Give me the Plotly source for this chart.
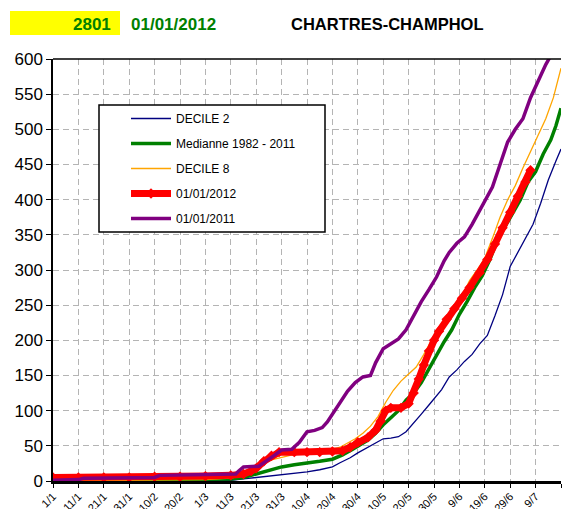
import plotly.graph_objects as go

# ---------------- data (day index from 1 Jan) ----------------
tick_labels = ["1/1", "11/1", "21/1", "31/1", "10/2", "20/2", "1/3", "11/3", "21/3", "31/3",
               "10/4", "20/4", "30/4", "10/5", "20/5", "30/5", "9/6", "19/6", "29/6", "9/7", "19/7"]
tick_days = [0, 10, 20, 30, 40, 50, 60, 70, 80, 90, 100, 110, 120, 130, 140, 150, 160, 170, 180, 190, 200]

d2_days = [0, 60, 70, 75, 80, 85, 90, 95, 100, 105, 110, 113, 117, 120, 124, 127, 130, 133, 136, 139,
           142, 145, 148, 150, 153, 156, 159, 162, 165, 168, 171, 174, 177, 180, 183, 186, 189, 192, 195, 198, 200]
d2_vals = [0, 0, 1, 3, 5, 6, 8, 11, 13, 16, 20, 26, 33, 40, 48, 55, 60, 61, 63, 70,
           82, 95, 108, 117, 130, 148, 158, 170, 180, 195, 207, 235, 265, 305, 325, 345, 365, 395, 428, 455, 472]

med_days = [0, 30, 60, 70, 75, 78, 82, 86, 90, 95, 100, 105, 110, 114, 118, 121, 124, 127, 130, 133, 136,
            139, 142, 145, 148, 151, 154, 157, 160, 163, 166, 169, 172, 175, 178, 181, 184, 187, 190, 193,
            196, 198, 200]
med_vals = [0, 1, 2, 3, 5, 8, 12, 17, 20, 23, 25, 28, 31, 37, 45, 52, 58, 68, 80, 90, 100,
            115, 125, 140, 160, 180, 198, 215, 237, 255, 275, 292, 315, 343, 362, 380, 400, 425, 440, 465,
            485, 505, 530]

d8_days = [0, 60, 70, 75, 80, 83, 86, 89, 92, 95, 100, 105, 110, 113, 116, 119, 122, 125, 128, 131, 134,
           137, 140, 143, 146, 149, 152, 155, 158, 161, 164, 167, 170, 173, 176, 179, 182, 185, 188, 191,
           194, 197, 200]
d8_vals = [0, 2, 4, 8, 18, 27, 30, 33, 36, 38, 40, 42, 45, 48, 54, 60, 68, 78, 92, 112, 129,
           142, 152, 162, 180, 200, 215, 230, 245, 263, 285, 300, 317, 345, 375, 400, 420, 445, 468, 490,
           515, 545, 587]

y2012_days = [0, 10, 20, 30, 40, 50, 60, 70, 75, 78, 80, 83, 86, 89, 95, 100, 105, 110, 114, 117, 120,
              124, 127, 129, 131, 133, 137, 140, 142, 144, 146, 148, 150, 152, 155, 158, 161, 164, 168,
              171, 174, 177, 180, 183, 186, 188]
y2012_vals = [5, 5, 5, 5, 6, 6, 7, 8, 10, 14, 18, 28, 36, 41, 41, 41, 41, 42, 43, 48, 55,
              62, 72, 85, 100, 104, 104, 110, 125, 145, 165, 185, 200, 213, 230, 245, 260, 275, 296,
              315, 337, 360, 382, 405, 425, 442]

y2011_days = [0, 10, 12, 40, 42, 72, 73, 75, 81, 84, 87, 90, 94, 97, 100, 103, 106, 108, 110, 113, 116,
              119, 122, 125, 127, 130, 133, 136, 139, 142, 145, 148, 151, 154, 156, 159, 162, 165, 168,
              171, 173, 176, 179, 182, 185, 188, 191, 194, 196]
y2011_vals = [1, 2, 4, 5, 8, 10, 14, 20, 21, 28, 36, 44, 45, 55, 70, 72, 76, 84, 95, 110, 128,
              140, 148, 150, 168, 188, 195, 202, 215, 235, 255, 272, 290, 313, 325, 338, 347, 365, 385,
              405, 418, 450, 482, 500, 515, 545, 570, 592, 605]

# ---------------- layout helpers (pixels -> paper) ----------------
W, H = 563, 509
L, R, T, B = 53, 2, 59, 28
PW, PH = W - L - R, H - T - B


def px(x):
    return (x - L) / PW


def py(y):
    return (H - B - y) / PH


FONT = "Arial, Liberation Sans, sans-serif"

fig = go.Figure()
fig.add_trace(go.Scatter(x=d2_days, y=d2_vals, mode="lines", name="DECILE 2",
                         line=dict(color="#000080", width=1.3), legendgroup="a"))
fig.add_trace(go.Scatter(x=med_days, y=med_vals, mode="lines", name="Medianne 1982 - 2011",
                         line=dict(color="#008000", width=3.5), legendgroup="b"))
fig.add_trace(go.Scatter(x=d8_days, y=d8_vals, mode="lines", name="DECILE 8",
                         line=dict(color="#FFA500", width=1.3), legendgroup="c"))
fig.add_trace(go.Scatter(x=y2012_days, y=y2012_vals, mode="lines+markers", name="01/01/2012",
                         line=dict(color="#FF0000", width=7),
                         marker=dict(symbol="diamond", size=8, color="#FF0000"), legendgroup="d"))
fig.add_trace(go.Scatter(x=y2011_days, y=y2011_vals, mode="lines", name="01/01/2011",
                         line=dict(color="#800080", width=3.5), legendgroup="e"))

fig.update_layout(
    template="none",
    width=W, height=H,
    margin=dict(l=L, r=R, t=T, b=B, autoexpand=False),
    paper_bgcolor="white", plot_bgcolor="white",
    font=dict(family=FONT, color="black"),
    showlegend=True,
    legend=dict(x=px(126), y=py(104), xanchor="left", yanchor="top",
                bgcolor="rgba(0,0,0,0)", borderwidth=0,
                font=dict(size=12, family=FONT), itemwidth=40,
                tracegroupgap=6, traceorder="grouped"),
    xaxis=dict(range=[0, 200], tickmode="array", tickvals=tick_days, ticktext=tick_labels,
               tickangle=-45, tickfont=dict(size=11), ticks="outside", ticklen=4, tickcolor="black",
               ticklabelstandoff=-2,
               showline=True, linecolor="black", linewidth=2.5,
               showgrid=True, gridcolor="#b4b4b4", griddash="6px,4px", gridwidth=1,
               zeroline=False, automargin=False, fixedrange=True),
    yaxis=dict(range=[0, 600], dtick=50, tickfont=dict(size=17), ticks="outside", ticklen=5,
               tickcolor="black", showline=True, linecolor="black", linewidth=1.5,
               showgrid=True, gridcolor="#b4b4b4", griddash="6px,4px", gridwidth=1,
               zeroline=False, automargin=False, fixedrange=True),
    shapes=[
        dict(type="rect", xref="paper", yref="paper", x0=px(10), x1=px(120), y0=py(35), y1=py(11),
             fillcolor="#FFFF00", line=dict(width=0), layer="below"),
        dict(type="line", xref="paper", yref="paper", x0=0, x1=1, y0=1, y1=1,
             line=dict(color="black", width=1.5)),
        dict(type="rect", xref="paper", yref="paper", x0=px(99), x1=px(325), y0=py(232), y1=py(105),
             fillcolor="white", line=dict(color="black", width=1.5), layer="above"),
    ],
    annotations=[
        dict(text="<b>2801</b>", xref="paper", yref="paper", x=px(113), y=py(24),
             xanchor="right", yanchor="middle", showarrow=False,
             font=dict(size=17, color="#008000", family=FONT)),
        dict(text="<b>01/01/2012</b>", xref="paper", yref="paper", x=px(129), y=py(24),
             xanchor="left", yanchor="middle", showarrow=False,
             font=dict(size=17, color="#008000", family=FONT)),
        dict(text="<b>CHARTRES-CHAMPHOL</b>", xref="paper", yref="paper", x=px(289), y=py(24),
             xanchor="left", yanchor="middle", showarrow=False,
             font=dict(size=16.5, color="black", family=FONT)),
    ],
)

fig.write_html("out.html", config={"displayModeBar": False},
               post_script="document.body.style.margin='0';document.body.style.padding='0';")
